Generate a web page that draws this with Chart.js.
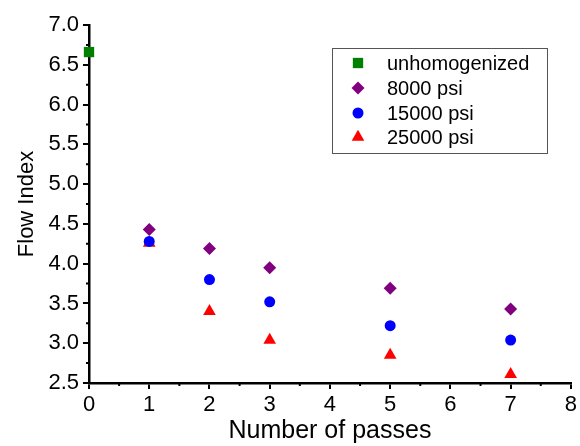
<!DOCTYPE html>
<html>
<head>
<meta charset="utf-8">
<script src="https://cdn.jsdelivr.net/npm/chart.js@4/dist/chart.umd.min.js"></script>
<style>
  html, body { margin: 0; padding: 0; background: #fff; }
  #wrap { width: 580px; height: 446px; }
</style>
</head>
<body>
<div id="wrap"><canvas id="chart"></canvas></div>
<script>
// data
var seriesNames = ['unhomogenized', '8000 psi', '15000 psi', '25000 psi'];
var unhomX = [0];
var unhomY = [6.66];
var passes = [1, 2, 3, 5, 7];
var psi8000 = [4.43, 4.19, 3.95, 3.69, 3.43];
var psi15000 = [4.28, 3.80, 3.52, 3.22, 3.04];
var psi25000 = [4.26, 3.40, 3.04, 2.85, 2.61];
var xTicks = [0, 1, 2, 3, 4, 5, 6, 7, 8];
var yTicks = [2.5, 3.0, 3.5, 4.0, 4.5, 5.0, 5.5, 6.0, 6.5, 7.0];

function pts(xs, ys) {
    return xs.map(function(x, i) { return { x: x, y: ys[i] }; });
}

var font = "'Liberation Sans', Arial, sans-serif";

// minor ticks + box legend
var extras = {
    id: 'extras',
    afterDraw: function(chart) {
        var c = chart.ctx, xs = chart.scales.x, ys = chart.scales.y;
        var area = chart.chartArea;
        c.save();
        c.strokeStyle = '#000';
        c.lineWidth = 2;
        c.beginPath();
        for (var v = 0.5; v < 8; v += 1) {
            var px = xs.getPixelForValue(v);
            c.moveTo(px, area.bottom);
            c.lineTo(px, area.bottom + 3);
        }
        for (var w = 2.75; w < 7; w += 0.5) {
            var py = ys.getPixelForValue(w);
            c.moveTo(area.left, py);
            c.lineTo(area.left - 3, py);
        }
        c.stroke();

        // legend
        c.lineWidth = 1;
        c.strokeStyle = '#555';
        c.strokeRect(332.5, 48.5, 215, 105);
        var rows = [63, 88, 113, 137];
        c.font = '20px ' + font;
        c.textBaseline = 'middle';
        chart.data.datasets.forEach(function(ds, i) {
            c.fillStyle = ds.backgroundColor;
            Chart.helpers.drawPoint(c, {
                pointStyle: ds.pointStyle,
                radius: ds.pointRadius,
                rotation: 0,
                borderWidth: 0
            }, 358, rows[i]);
            c.fillStyle = '#000';
            c.fillText(seriesNames[i], 387, rows[i] + 1);
        });
        c.restore();
    }
};

new Chart(document.getElementById('chart'), {
    type: 'scatter',
    data: {
        datasets: [
            { label: seriesNames[0], data: pts(unhomX, unhomY), pointStyle: 'rect', pointRadius: 7.3,
              backgroundColor: '#008000', borderWidth: 0 },
            { label: seriesNames[1], data: pts(passes, psi8000), pointStyle: 'rectRot', pointRadius: 6.5,
              backgroundColor: '#800080', borderWidth: 0 },
            { label: seriesNames[2], data: pts(passes, psi15000), pointStyle: 'circle', pointRadius: 5.5,
              backgroundColor: '#0000ff', borderWidth: 0 },
            { label: seriesNames[3], data: pts(passes, psi25000), pointStyle: 'triangle', pointRadius: 7.3,
              backgroundColor: '#ff0000', borderWidth: 0 }
        ]
    },
    options: {
        responsive: true,
        maintainAspectRatio: false,
        animation: false,
        clip: false,
        layout: { padding: { top: 25, right: 9, left: 0, bottom: 0 } },
        plugins: { legend: { display: false }, tooltip: { enabled: false } },
        scales: {
            x: {
                type: 'linear',
                min: 0, max: 8,
                afterBuildTicks: function(s) { s.ticks = xTicks.map(function(v) { return { value: v }; }); },
                afterFit: function(s) { s.height = 63; },
                ticks: { color: '#000', font: { family: font, size: 22 }, padding: 3 },
                grid: { drawOnChartArea: false, drawTicks: true, tickLength: 6, color: '#000', lineWidth: 2 },
                border: { display: true, color: '#000', width: 2.5 },
                title: { display: true, text: 'Number of passes', color: '#000',
                         font: { family: font, size: 25 }, padding: { top: 0, bottom: 0 } }
            },
            y: {
                type: 'linear',
                min: 2.5, max: 7.0,
                afterBuildTicks: function(s) { s.ticks = yTicks.map(function(v) { return { value: v }; }); },
                afterFit: function(s) { s.width = 89; },
                ticks: { color: '#000', font: { family: font, size: 22 }, padding: 4,
                         callback: function(v) { return v.toFixed(1); } },
                grid: { drawOnChartArea: false, drawTicks: true, tickLength: 6, color: '#000', lineWidth: 2 },
                border: { display: true, color: '#000', width: 2.5 },
                title: { display: true, text: 'Flow Index', color: '#000',
                         font: { family: font, size: 22 }, padding: { top: 14, bottom: 0 } }
            }
        }
    },
    plugins: [extras]
});
</script>
</body>
</html>
